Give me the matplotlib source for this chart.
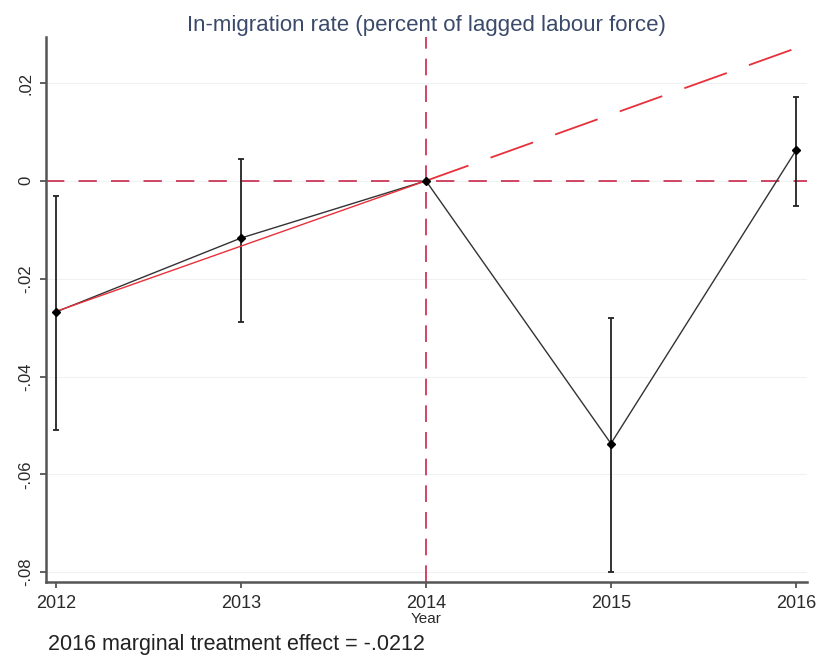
import matplotlib.pyplot as plt

plt.rcParams["font.family"] = ["Liberation Sans", "DejaVu Sans"]

# Data
years = [2012, 2013, 2014, 2015, 2016]
estimate = [-0.0268, -0.0117, 0.0, -0.0537, 0.0062]
ci_low = [-0.0510, -0.0289, 0.0, -0.0800, -0.0051]
ci_high = [-0.0031, 0.0045, 0.0, -0.0281, 0.0172]

trend_pre_years = [2012, 2014]
trend_pre = [-0.0267, 0.0]
trend_post_years = [2014, 2016]
trend_post = [0.0, 0.0271]

yticks = [0.02, 0.0, -0.02, -0.04, -0.06, -0.08]
ytick_labels = [".02", "0", "-.02", "-.04", "-.06", "-.08"]

fig = plt.figure(figsize=(8.18, 6.58), dpi=100)
ax = fig.add_axes([0.0562, 0.1155, 0.9304, 0.8283])

ref_red = "#c8284a"
ax.axhline(0, color=ref_red, lw=1.2, ls=(0, (11, 8.5)), zorder=1)
ax.axvline(2014, color=ref_red, lw=1.2, ls=(0, (10, 6)), zorder=1)

for y in yticks:
    ax.axhline(y, color="#eef2f2", lw=0.8, zorder=0)

# error bars (skip the reference year)
for x, lo, hi in zip(years, ci_low, ci_high):
    if hi > lo:
        ax.vlines(x, lo, hi, color="#222222", lw=1.3, zorder=3)
        ax.hlines([lo, hi], x - 0.018, x + 0.018, color="#222222", lw=1.3, zorder=3)

ax.plot(years, estimate, color="#333333", lw=1.0, zorder=4)
ax.plot(years, estimate, ls="none", marker="D", ms=4, color="black", zorder=5)

ax.plot(trend_pre_years, trend_pre, color="#e8303a", lw=1.0, zorder=4)
ax.plot(trend_post_years, trend_post, color="#e8303a", lw=1.3,
        ls=(0, (25, 13)), zorder=2)

ax.set_xlim(2011.946, 2016.06)
ax.set_ylim(-0.082, 0.0294)

ax.set_xticks(years)
ax.set_xticklabels([str(y) for y in years], fontsize=13, color="#2a2a2a")
ax.set_yticks(yticks)
ax.set_yticklabels(ytick_labels, rotation=90, va="center", fontsize=12,
                   color="#2a2a2a")
ax.tick_params(axis="both", length=4, width=1.2, color="#444444", pad=5)

for side in ["top", "right"]:
    ax.spines[side].set_visible(False)
for side in ["left", "bottom"]:
    ax.spines[side].set_color("#555555")
    ax.spines[side].set_linewidth(1.8)

ax.set_xlabel("Year", fontsize=11, color="#2a2a2a", labelpad=0)
ax.set_title("In-migration rate (percent of lagged labour force)",
             fontsize=16, color="#3b4a6b", pad=4)

fig.text(0.059, 0.012, "2016 marginal treatment effect = -.0212",
         fontsize=15.5, color="#222222")

fig.savefig("out.png", dpi=100)
